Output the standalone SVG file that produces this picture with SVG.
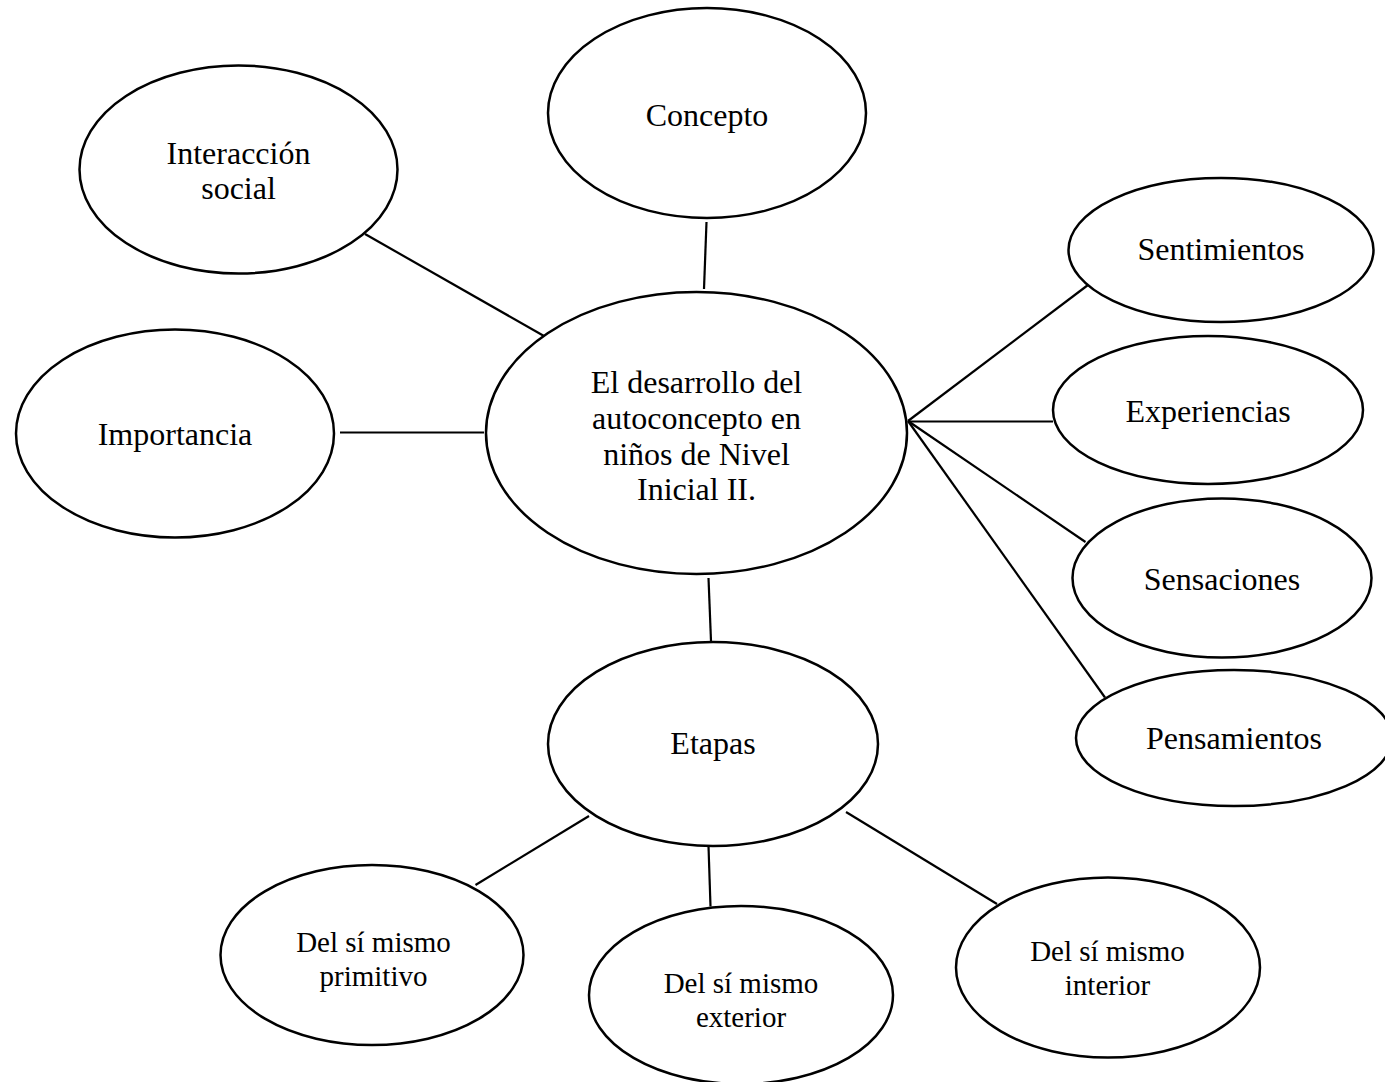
<svg xmlns="http://www.w3.org/2000/svg" width="1385" height="1082" viewBox="0 0 1385 1082">
<style>
.n ellipse{fill:#fff;stroke:#000;stroke-width:2.5}
.n text{font-family:"Liberation Serif","Times New Roman",serif;font-size:32px;fill:#000;text-anchor:middle}
.n text.s{font-size:29px}
#connectors line{stroke:#000;stroke-width:2.2}
</style>
<rect width="1385" height="1082" fill="#fff"/>
<g id="connectors">
<line x1="706.5" y1="222" x2="704" y2="289"/>
<line x1="365" y1="234" x2="544" y2="336"/>
<line x1="340" y1="432.5" x2="484" y2="432.5"/>
<line x1="1088" y1="285" x2="908" y2="421"/>
<line x1="908" y1="421.5" x2="1053" y2="421.5"/>
<line x1="908" y1="421" x2="1085.5" y2="542"/>
<line x1="908" y1="421" x2="1105" y2="697.5"/>
<line x1="708.5" y1="578" x2="711" y2="641"/>
<line x1="589" y1="816" x2="475.5" y2="885"/>
<line x1="708.5" y1="846" x2="710.5" y2="906.5"/>
<line x1="846" y1="812" x2="997" y2="904"/>
</g>
<g id="n-concepto" class="n"><ellipse cx="707" cy="113" rx="159" ry="105"/><text x="707" y="126">Concepto</text></g>
<g id="n-interaccion" class="n"><ellipse cx="238.5" cy="169.5" rx="159" ry="104"/><text x="238.5" y="164">Interacción</text><text x="238.5" y="199">social</text></g>
<g id="n-importancia" class="n"><ellipse cx="175" cy="433.5" rx="159" ry="104"/><text x="175" y="445">Importancia</text></g>
<g id="n-central" class="n"><ellipse cx="696.5" cy="433" rx="210.5" ry="141"/><text x="696.5" y="393">El desarrollo del</text><text x="696.5" y="429">autoconcepto en</text><text x="696.5" y="465">niños de Nivel</text><text x="696.5" y="500">Inicial II.</text></g>
<g id="n-sentimientos" class="n"><ellipse cx="1221" cy="250" rx="152.5" ry="72"/><text x="1221" y="260">Sentimientos</text></g>
<g id="n-experiencias" class="n"><ellipse cx="1208" cy="410" rx="155" ry="74"/><text x="1208" y="422">Experiencias</text></g>
<g id="n-sensaciones" class="n"><ellipse cx="1222" cy="578" rx="149.5" ry="79.5"/><text x="1222" y="590">Sensaciones</text></g>
<g id="n-pensamientos" class="n"><ellipse cx="1234" cy="738" rx="158" ry="68"/><text x="1234" y="749">Pensamientos</text></g>
<g id="n-etapas" class="n"><ellipse cx="713" cy="744" rx="165" ry="102"/><text x="713" y="754">Etapas</text></g>
<g id="n-primitivo" class="n"><ellipse cx="372" cy="955" rx="151.5" ry="90"/><text class="s" x="373.5" y="952">Del sí mismo</text><text class="s" x="373.5" y="986">primitivo</text></g>
<g id="n-exterior" class="n"><ellipse cx="741" cy="995" rx="152" ry="89"/><text class="s" x="741" y="993">Del sí mismo</text><text class="s" x="741" y="1027">exterior</text></g>
<g id="n-interior" class="n"><ellipse cx="1108" cy="967.5" rx="152" ry="90"/><text class="s" x="1107.5" y="961">Del sí mismo</text><text class="s" x="1107.5" y="995">interior</text></g>
</svg>
